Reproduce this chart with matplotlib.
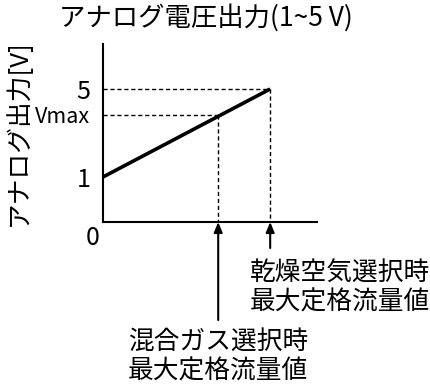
import matplotlib
matplotlib.use("Agg")
import matplotlib.pyplot as plt

plt.rcParams['font.family'] = ['Noto Sans CJK JP', 'DejaVu Sans']

# Data (schematic)
flow = [0.0, 1.0]            # normalized flow (dry air max rated = 1)
volt = [1.0, 5.0]            # analog output V
mix_flow = 0.689             # mixed gas max rated flow (relative)
vmax = 3.82                  # Vmax at mixed gas max flow
ytick_vals = [1.0, vmax, 5.0]
ytick_labels = ['1', 'Vmax', '5']
title = 'アナログ電圧出力(1~5 V)'
ylabel = 'アナログ出力[V]'
note_air = '乾燥空気選択時\n最大定格流量値'
note_mix = '混合ガス選択時\n最大定格流量値'

W, H = 430, 385
fig = plt.figure(figsize=(W/100, H/100), dpi=100)
ax = fig.add_axes([103/W, (H-222)/H, (317-103)/W, (222-44)/H])
ax.set_xlim(0, 1.28)
ax.set_ylim(-1.045, 7.045)
for s in ['top', 'right']:
    ax.spines[s].set_visible(False)
for s in ['left', 'bottom']:
    ax.spines[s].set_linewidth(1.5)

ax.plot(flow, volt, color='black', lw=2.6, solid_capstyle='butt')
ymin = ax.get_ylim()[0]
# dashed guides
ax.plot([0, flow[1]], [volt[1], volt[1]], 'k--', lw=1, dashes=(3, 2))
ax.plot([flow[1], flow[1]], [volt[1], ymin], 'k--', lw=1, dashes=(3, 2))
ax.plot([0, mix_flow], [vmax, vmax], 'k--', lw=1, dashes=(3, 2))
ax.plot([mix_flow, mix_flow], [vmax, ymin], 'k--', lw=1, dashes=(3, 2))

ax.set_xticks([])
ax.set_yticks(ytick_vals)
ax.set_yticklabels(ytick_labels)
for lab in ax.get_yticklabels():
    lab.set_fontsize(15.5 if lab.get_text() == 'Vmax' else 18)
ax.tick_params(axis='y', length=0, pad=9)
ax.text(-0.02, ymin - 0.15, '0', ha='right', va='top', fontsize=18)

fig.text(206/W, 1-18/H, title, ha='center', va='center', fontsize=19)
fig.text(18/W, 1-133/H, ylabel, ha='center', va='center', rotation=90, fontsize=18.5)

ap = dict(arrowstyle='-|>,head_length=0.6,head_width=0.25', color='black', lw=1.5,
          shrinkA=0, shrinkB=0)
ax.annotate('', xy=(mix_flow, ymin), xytext=(mix_flow, 1 - (320-177)/22),
            arrowprops=ap, annotation_clip=False)
ax.annotate('', xy=(flow[1], ymin), xytext=(flow[1], 1 - (248-177)/22),
            arrowprops=ap, annotation_clip=False)

fig.text(340/W, 1-288/H, note_air, ha='center', va='center', fontsize=18.5, linespacing=1.15)
fig.text(218/W, 1-357/H, note_mix, ha='center', va='center', fontsize=18.5, linespacing=1.15)

fig.savefig('out.png', dpi=100)
